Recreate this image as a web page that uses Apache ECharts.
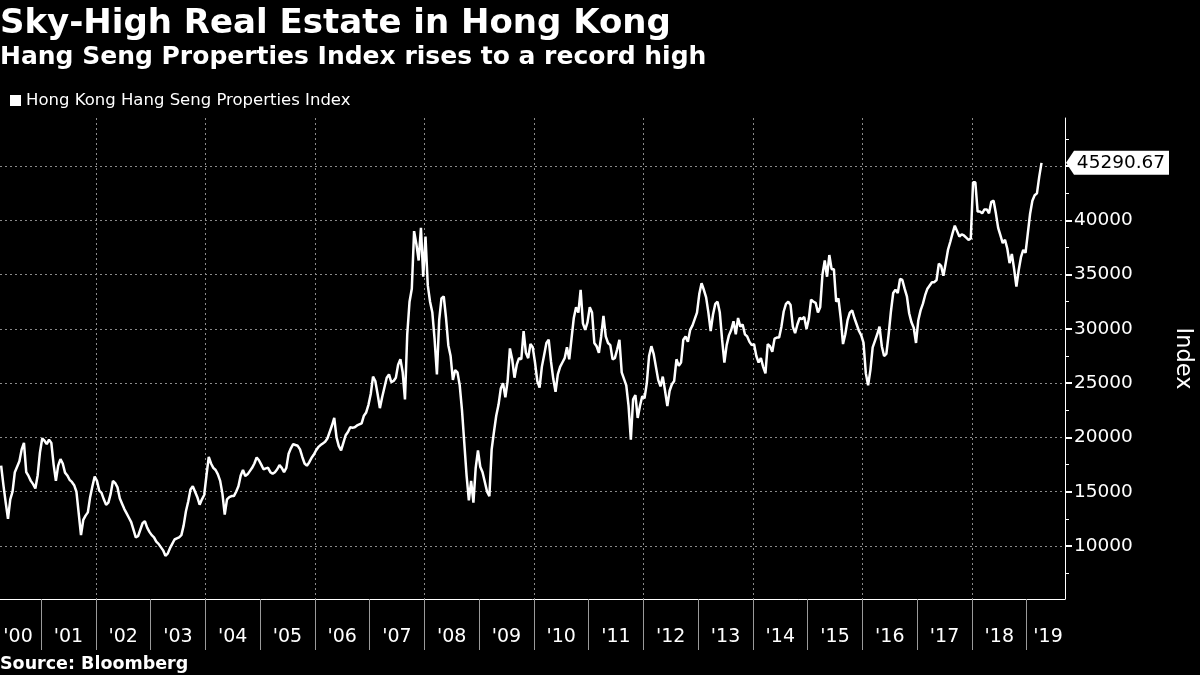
<!DOCTYPE html>
<html>
<head>
<meta charset="utf-8">
<title>Sky-High Real Estate in Hong Kong</title>
<script src="https://cdn.jsdelivr.net/npm/echarts@6/dist/echarts.min.js"></script>
<style>
    html, body { margin: 0; padding: 0; background: #000; }
    #chart { width: 1200px; height: 675px; }
</style>
</head>
<body>
<div id="chart"></div>
<script>
    var FONT = "'DejaVu Sans', sans-serif";

    // half-month closes, 24 per year (2000 starts late March, 2019 ends mid April)
    var years = [2000, 2001, 2002, 2003, 2004, 2005, 2006, 2007, 2008, 2009,
                 2010, 2011, 2012, 2013, 2014, 2015, 2016, 2017, 2018, 2019];
    var firstHalfMonth = 6;
    var hsp2000 = [17400, 15600, 14000, 12500, 14300, 15000, 16800, 17300, 17800, 18900, 19500, 16800,
                   16450, 16000, 15700, 15300, 16500, 18600];
    var hsp2001 = [19900, 19700, 19380, 19800, 19500, 17500, 16000, 17400, 18000, 17600, 16760, 16500,
                   16100, 15900, 15600, 15000, 13000, 11000, 12400, 12800, 13100, 14500, 15500, 16400];
    var hsp2002 = [16000, 15100, 14900, 14300, 13800, 14000, 14800, 16000, 15800, 15400, 14400, 13900,
                   13400, 13000, 12600, 12200, 11500, 10800, 10900, 11500, 12100, 12300, 11700, 11300];
    var hsp2003 = [11000, 10800, 10400, 10200, 9900, 9600, 9100, 9300, 9800, 10200, 10600, 10700,
                   10800, 11000, 11900, 13200, 14100, 15200, 15500, 15000, 14500, 13800, 14300, 14700];
    var hsp2004 = [16500, 18200, 17600, 17200, 17000, 16600, 16000, 14800, 12900, 14300, 14500, 14600,
                   14600, 15000, 15500, 16500, 17000, 16450, 16600, 16900, 17200, 17600, 18150, 17900];
    var hsp2005 = [17500, 17070, 17150, 17200, 16800, 16650, 16800, 17070, 17450, 17200, 16800, 17200,
                   18500, 19000, 19380, 19300, 19230, 18900, 18200, 17600, 17400, 17700, 18100, 18400];
    var hsp2006 = [18800, 19100, 19300, 19450, 19600, 19900, 20500, 21100, 21800, 20000, 19200, 18800,
                   19500, 20200, 20500, 20930, 20900, 20930, 21100, 21200, 21300, 22000, 22300, 23000];
    var hsp2007 = [24000, 25600, 25200, 24000, 22700, 23700, 24600, 25500, 25800, 25100, 25200, 25500,
                   26700, 27200, 26000, 23500, 29500, 32500, 33700, 39000, 37800, 36300, 39300, 34800];
    var hsp2008 = [38500, 34000, 32500, 31500, 29000, 25800, 30800, 32800, 33000, 31000, 28500, 27500,
                   25300, 26200, 26000, 24800, 22500, 19500, 16500, 14200, 16000, 14000, 17200, 18800];
    var hsp2009 = [17300, 16800, 15900, 15000, 14600, 18900, 20500, 22000, 23000, 24500, 25000, 23700,
                   25200, 28200, 27200, 25500, 26700, 27300, 27200, 29800, 27800, 27300, 28600, 28300];
    var hsp2010 = [26900, 25200, 24600, 26500, 27600, 28700, 29000, 27000, 25400, 24200, 25800, 26500,
                   26900, 27300, 28300, 27200, 29100, 31000, 32000, 31500, 33600, 30500, 29900, 30600];
    var hsp2011 = [32000, 31500, 28700, 28400, 27800, 29300, 31200, 29300, 28700, 28500, 27200, 27300,
                   28100, 29000, 26000, 25400, 24800, 22900, 19800, 23500, 23900, 21800, 22900, 23800];
    var hsp2012 = [23600, 25000, 27500, 28400, 27700, 26500, 25300, 24700, 25600, 24300, 22900, 24300,
                   24900, 25200, 27200, 26600, 26900, 29000, 29300, 28800, 29900, 30300, 30900, 31500];
    var hsp2013 = [33200, 34200, 33600, 32900, 31500, 29800, 31300, 32300, 32500, 31500, 29000, 26900,
                   28500, 29400, 29900, 30700, 29500, 31000, 30200, 30400, 29500, 29300, 28800, 28500];
    var hsp2014 = [28600, 27500, 26900, 27300, 26500, 25900, 28600, 28400, 27900, 29100, 29200, 29200,
                   30200, 31600, 32300, 32500, 32200, 30200, 29600, 30400, 31000, 30900, 31100, 30000];
    var hsp2015 = [30900, 32700, 32500, 32400, 31500, 32000, 35000, 36300, 34800, 36800, 35500, 35500,
                   32500, 32800, 31000, 28600, 29500, 30800, 31500, 31700, 31000, 30400, 29800, 29400];
    var hsp2016 = [28700, 25900, 24800, 26200, 28300, 28900, 29500, 30200, 28400, 27500, 27700, 29500,
                   31600, 33300, 33600, 33300, 34600, 34500, 33700, 33000, 31440, 30600, 30100, 28700];
    var hsp2017 = [30800, 31700, 32300, 33100, 33700, 34000, 34300, 34300, 34500, 36000, 35800, 34900,
                   36050, 37270, 38000, 38800, 39500, 39000, 38500, 38700, 38600, 38400, 38200, 38300];
    var hsp2018 = [43500, 43500, 40800, 40800, 40640, 41000, 41000, 40640, 41700, 41800, 40640, 39300,
                   38600, 37900, 38200, 37400, 36050, 36900, 35500, 33900, 35400, 36600, 37270, 37000];
    var hsp2019 = [38800, 40600, 41800, 42300, 42480, 44000, 45290.67];

    var byYear = [hsp2000, hsp2001, hsp2002, hsp2003, hsp2004, hsp2005, hsp2006, hsp2007, hsp2008, hsp2009,
                  hsp2010, hsp2011, hsp2012, hsp2013, hsp2014, hsp2015, hsp2016, hsp2017, hsp2018, hsp2019];

    // axis settings
    var xMin = 2000.25, xMax = 2019.70;
    var yMin = 5120, yMax = 49420;
    var yearBounds = [2001, 2002, 2003, 2004, 2005, 2006, 2007, 2008, 2009, 2010,
                      2011, 2012, 2013, 2014, 2015, 2016, 2017, 2018, 2019];
    var gridYears = [2002, 2004, 2006, 2008, 2010, 2012, 2014, 2016, 2018];
    var yMajor = [10000, 15000, 20000, 25000, 30000, 35000, 40000, 45000];
    var yLabels = [10000, 15000, 20000, 25000, 30000, 35000, 40000];
    var yMinor = [7500, 12500, 17500, 22500, 27500, 32500, 37500, 42500, 47500];

    var seriesData = [];
    byYear.forEach(function (vals, i) {
        var start = i === 0 ? firstHalfMonth : 0;
        vals.forEach(function (v, k) {
            seriesData.push([years[i] + (start + k + 0.5) / 24, v]);
        });
    });

    // year labels sit mid-year, pulled in at both ends
    var labelPos = years.map(function (y) {
        return Math.min(Math.max(y + 0.5, xMin + 0.33), xMax - 0.31);
    });

    var dashed = {color: '#8a8a8a', width: 1, type: [2, 3]};

    var myChart = echarts.init(document.getElementById('chart'));
    var option = {
        backgroundColor: '#000',
        animation: false,
        title: [
            {
                text: 'Sky-High Real Estate in Hong Kong',
                left: 0, top: 7, padding: 0,
                textStyle: {color: '#fff', fontSize: 34, fontWeight: 'bold', fontFamily: FONT}
            },
            {
                text: 'Hang Seng Properties Index rises to a record high',
                left: 0, top: 45, padding: 0,
                textStyle: {color: '#fff', fontSize: 25, fontWeight: 'bold', fontFamily: FONT}
            },
            {
                text: 'Source: Bloomberg',
                left: 0, top: 655, padding: 0,
                textStyle: {color: '#fff', fontSize: 17.5, fontWeight: 'bold', fontFamily: FONT}
            }
        ],
        legend: {
            left: 10, top: 92, padding: 0,
            icon: 'rect', itemWidth: 11, itemHeight: 11,
            textStyle: {color: '#fff', fontSize: 16.5, fontFamily: FONT},
            data: ['Hong Kong Hang Seng Properties Index']
        },
        grid: {left: 0, right: 135, top: 118, bottom: 76, outerBoundsMode: 'none'},
        xAxis: [
            {
                type: 'value', min: xMin, max: xMax, position: 'bottom',
                axisLine: {show: true, onZero: false, lineStyle: {color: '#fff', width: 1}},
                axisTick: {show: true, customValues: yearBounds, length: 51, lineStyle: {color: '#9a9a9a'}},
                axisLabel: {
                    customValues: labelPos, color: '#fff', fontSize: 19, fontFamily: FONT, margin: 29,
                    formatter: function (v) { return "'" + String(Math.floor(v)).slice(2); }
                },
                splitLine: {show: false}
            },
            {
                type: 'value', min: xMin, max: xMax,
                axisLine: {show: false},
                axisTick: {show: false, customValues: gridYears},
                axisLabel: {show: false},
                splitLine: {show: true, lineStyle: dashed}
            }
        ],
        yAxis: [
            {
                type: 'value', min: yMin, max: yMax, position: 'right',
                name: 'Index', nameLocation: 'middle', nameRotate: -90, nameGap: 106,
                nameTextStyle: {color: '#fff', fontSize: 22.5, fontFamily: FONT},
                axisLine: {show: true, lineStyle: {color: '#fff', width: 1}},
                axisTick: {show: true, customValues: yMajor, length: 7, lineStyle: {color: '#fff', width: 2}},
                axisLabel: {
                    customValues: yLabels, color: '#fff', fontSize: 18.5, fontFamily: FONT, margin: 9,
                    formatter: function (v) { return String(v); }
                },
                splitLine: {show: true, lineStyle: dashed}
            },
            {
                type: 'value', min: yMin, max: yMax, position: 'right',
                axisLine: {show: false},
                axisTick: {show: true, customValues: yMinor, length: 4, lineStyle: {color: '#fff'}},
                axisLabel: {show: false},
                splitLine: {show: false}
            }
        ],
        series: [
            {
                name: 'Hong Kong Hang Seng Properties Index',
                type: 'line',
                xAxisIndex: 0, yAxisIndex: 0,
                data: seriesData,
                showSymbol: false,
                itemStyle: {color: '#fff'},
                lineStyle: {color: '#fff', width: 2.5},
                z: 5
            }
        ]
    };
    myChart.setOption(option);

    // last value tag at the right axis
    var last = seriesData[seriesData.length - 1];
    var p = myChart.convertToPixel({xAxisIndex: 0, yAxisIndex: 0}, last);
    var ax = myChart.convertToPixel({xAxisIndex: 0}, xMax);
    myChart.setOption({
        graphic: [
            {
                type: 'polygon', z: 20,
                shape: {points: [[ax + 1, p[1]], [ax + 9, p[1] - 12], [ax + 104, p[1] - 12],
                                 [ax + 104, p[1] + 12], [ax + 9, p[1] + 12]]},
                style: {fill: '#fff'}
            },
            {
                type: 'text', z: 21, x: ax + 56, y: p[1],
                style: {text: last[1].toFixed(2), fill: '#000', font: '18.5px ' + FONT,
                        align: 'center', verticalAlign: 'middle'}
            }
        ]
    });
</script>
</body>
</html>
